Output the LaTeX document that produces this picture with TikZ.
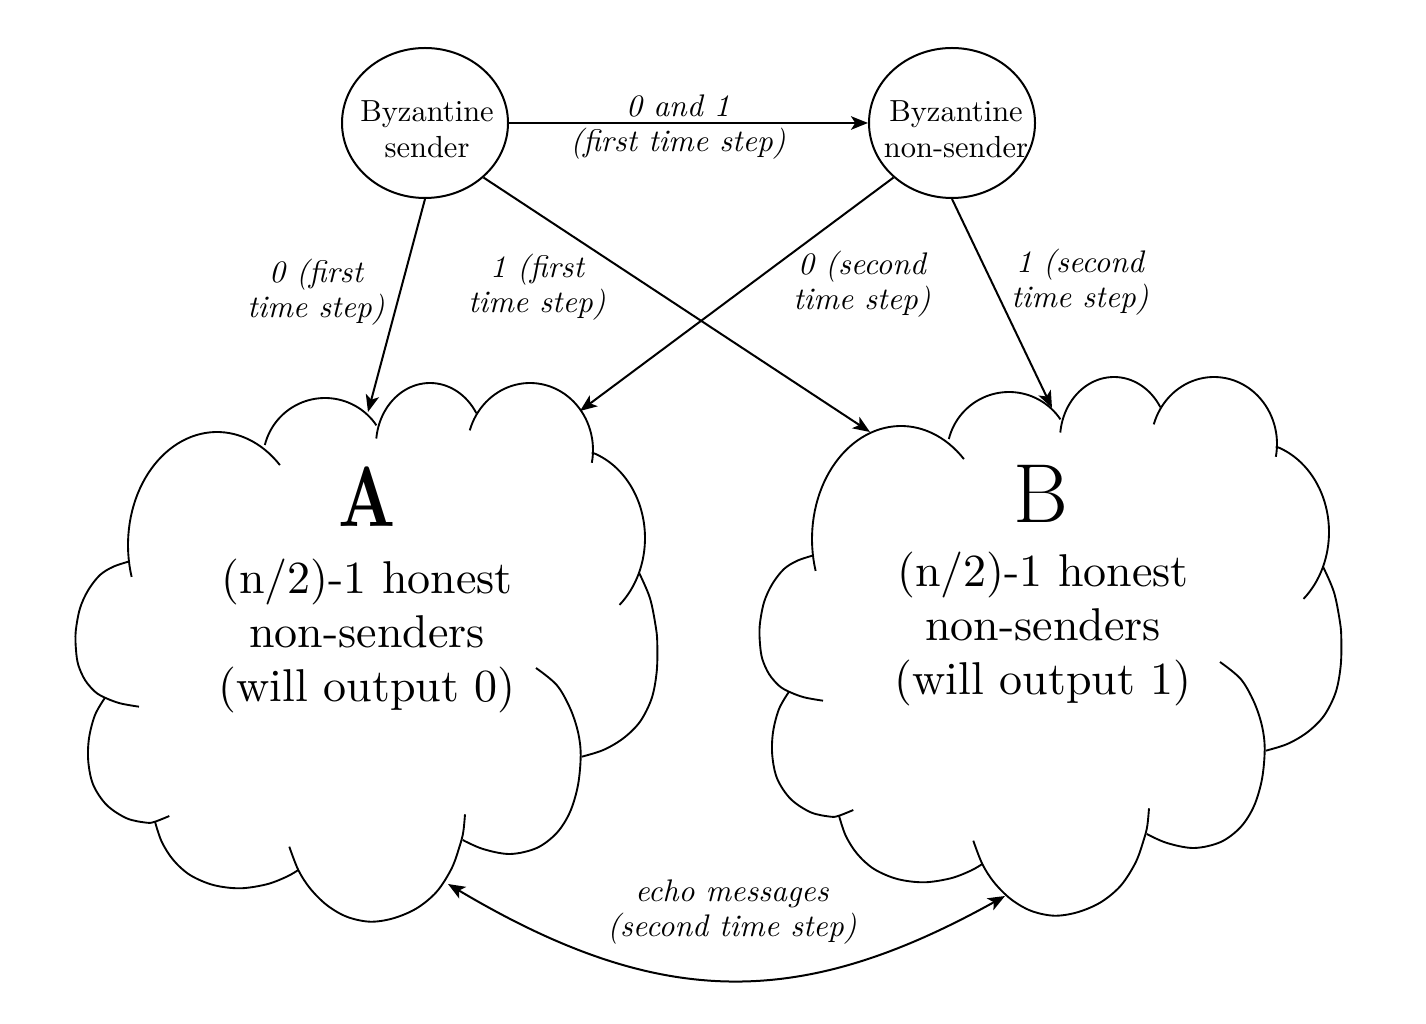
\documentclass[tikz,border=0pt]{standalone}
\usepackage{graphicx}
\usepackage{fontspec}
\setmainfont{lmroman10-regular}[Extension=.otf, ItalicFont=lmroman10-italic, BoldFont=lmroman10-bold]
\newfontfamily\bigrm{lmroman17-regular}[Extension=.otf]
\usetikzlibrary{arrows.meta,shapes.geometric}
\tikzset{
  ln/.style={line width=0.8pt},
  tip/.tip={Stealth[length=6.8pt,width=5.4pt,inset=1.7pt]},
  arr/.style={ln, -tip},
  darr/.style={ln, tip-tip},
  byz/.style={ellipse, draw, line width=0.8pt, minimum width=66.4pt, minimum height=60pt, inner sep=0pt},
  byztext/.style={align=center, inner sep=0pt, font=\fontsize{12.2}{14.4}\selectfont},
  lab/.style={align=center, font=\fontsize{12.5}{14}\selectfont\itshape, inner sep=0pt},
  cl/.style={line width=0.75pt},
  big/.style={font=\fontsize{18.4}{21.6}\selectfont, inner sep=0pt, anchor=base},
}
\newcommand\mycloud{%
  \draw[cl] plot[domain=163.6:315, samples=50] ({217+89*cos(\x)},{545+113*sin(\x)});
  \draw[cl] plot[domain=194:326, samples=40] ({325+62*cos(\x)},{460+62*sin(\x)});
  \draw[cl] plot[domain=186:329, samples=40] ({430+54*cos(\x)},{445+62*sin(\x)});
  \draw[cl] plot[domain=197:371, samples=50] ({530+63*cos(\x)},{450+67*sin(\x)});
  \draw[cl] plot[domain=288:408, samples=40] ({568+77*cos(\x)},{538+90*sin(\x)});
  \draw[cl] plot[smooth,tension=0.55] coordinates {(639.3,573.3) (650,598.3) (656,628.3) (657.3,645) (656.7,671.7) (651.7,698.3) (640,721.7) (623.3,738.3) (603.3,750) (581.7,756.7)};
  \draw[cl] plot[smooth,tension=0.55] coordinates {(536,668) (556.7,685) (570,708) (578,732) (580.7,755) (578,785) (570,812) (556.7,833) (536.7,848) (510,854) (483,849) (462.7,840)};
  \draw[cl] plot[smooth,tension=0.55] coordinates {(465,814.3) (463.3,831.7) (460,845) (451.7,868.3) (436.7,891.7) (416.7,908.3) (393.3,918.3) (370,921.7) (346.7,916.7) (326.7,905) (310,888.3) (298.3,870) (289.3,846.7)};
  \draw[cl] plot[smooth,tension=0.55] coordinates {(155,821.7) (161.7,841.7) (173.3,860) (190,875) (213.3,885) (240,888.3) (266.7,884.3) (286.7,876.7) (298.3,870)};
  \draw[cl] plot[smooth,tension=0.55] coordinates {(105,697.7) (95,715) (89,738.3) (88.3,761.7) (93.3,785) (106.7,805) (126.7,818.3) (146.7,822.7) (155,821.7) (169.3,816)};
  \draw[cl] plot[smooth,tension=0.55] coordinates {(128.3,561.7) (113.3,566.7) (100,575) (88.3,590) (80,608.3) (75.7,631.7) (76,650) (78.3,665) (85,680) (95,691.7) (105,697.7) (120,703.3) (139,706.7)};
}
\begin{document}
\begin{tikzpicture}[x=0.4pt,y=-0.4pt]
\useasboundingbox (0,0) rectangle (1426,1024);
% clouds
\mycloud
\begin{scope}[shift={(684,-6)}]
\mycloud
\end{scope}
% cloud texts
\node[font=\fontsize{34.2}{40}\selectfont\bfseries, inner sep=0pt, anchor=base] (Aname) at (367,527) {\scalebox{0.77}[1]{A}};
\node[big] (A1) at (367,594) {(n/2)-1 honest};
\node[big] (A2) at (367,648) {non-senders};
\node[big] (A3) at (367,702) {(will output 0)};
\node[font=\fontsize{33.5}{38}\bigrm, inner sep=0pt, anchor=base] (Bname) at (1041,523) {B};
\node[big] (B1) at (1043,587) {(n/2)-1 honest};
\node[big] (B2) at (1043,641) {non-senders};
\node[big] (B3) at (1043,695) {(will output 1)};
% arrow end points on the clouds
\coordinate (a1) at (368,412);
\coordinate (a2) at (580,411);
\coordinate (a3) at (448,884);
\coordinate (b1) at (870,432);
\coordinate (b2) at (1052,408);
\coordinate (b3) at (1005,896);
% top nodes
\node[byz] (S) at (425,123) {};
\node[byztext] (St) at (427,129) {Byzantine\\sender};
\node[byz] (N) at (952,123) {};
\node[byztext] (Nt) at (956,129) {Byzantine\\non-sender};
% connectors
\draw[arr] (S) -- (N);
\draw[arr] (S.south) -- (a1);
\draw[arr] (S.-43) -- (b1);
\draw[arr] (N.-137) -- (a2);
\draw[arr] (N.south) -- (b2);
\draw[darr] (a3) .. controls (660,1010) and (800,1010) .. (b3);
% labels
\node[lab] (l0) at (678,127) {0 and 1\\(first time step)};
\node[lab] (l1) at (316,292) {0 (first\\time step)};
\node[lab] (l2) at (537,287) {1 (first\\time step)};
\node[lab] (l3) at (862,284) {0 (second\\time step)};
\node[lab] (l4) at (1080,282) {1 (second\\time step)};
\node[lab] (l5) at (732,912) {echo messages\\(second time step)};
\end{tikzpicture}
\end{document}
